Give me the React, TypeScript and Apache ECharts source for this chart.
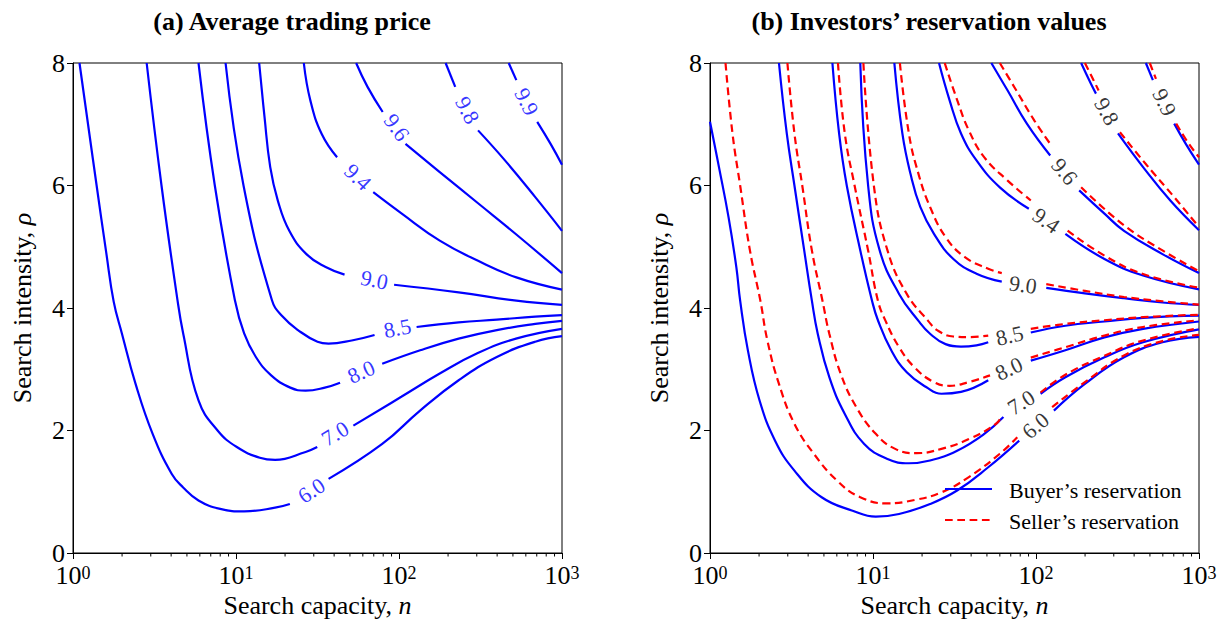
import React, { useEffect, useRef } from "react";
import * as echarts from "echarts";

type Pt = [number, number] | null;

const FONT = "Liberation Serif, Times New Roman, serif";

const levelLabels = ["6.0", "7.0", "8.0", "8.5", "9.0", "9.4", "9.6", "9.8", "9.9"];

// ---- Panel (a): average trading price contours [n, rho]; null = label gap
const avg60: Pt[] = [[1.096, 8], [1.396, 6], [1.6, 4.9], [1.778, 4.1], [1.995, 3.585], [2.415, 2.77], [3.076, 1.95], [4.036, 1.29], [4.74, 1.07], [5.888, 0.857], [8.0, 0.72], [11.22, 0.68], [17.38, 0.74], [21.4, 0.8], null, [36.98, 1.21], [78.9, 1.78], [135.2, 2.33], [232.3, 2.82], [398.1, 3.2], [685.5, 3.45], [1000, 3.54]];
const avg70: Pt[] = [[2.831, 8], [3.491, 6], [4.375, 4.13], [4.742, 3.585], [5.888, 2.49], [7.709, 2.0], [10.12, 1.73], [14.0, 1.555], [17.38, 1.52], [26.73, 1.65], [31.5, 1.73], null, [52.5, 2.08], [103.3, 2.55], [177.8, 2.93], [302, 3.26], [522, 3.5], [1000, 3.66]];
const avg80: Pt[] = [[5.888, 8], [7.413, 6], [9.84, 4.13], [11.22, 3.585], [13.24, 3.2], [16.44, 2.9], [21.53, 2.7], [26.73, 2.65], [35.08, 2.7], [43.5, 2.78], null, [78.9, 3.09], [134.9, 3.31], [232.3, 3.5], [398.1, 3.64], [685.5, 3.74], [1000, 3.79]];
const avg85: Pt[] = [[8.63, 8], [11.12, 6], [16.6, 4.13], [19.32, 3.86], [23.99, 3.64], [31.62, 3.45], [36.98, 3.42], [51.3, 3.47], [70.8, 3.56], null, [128.2, 3.69], [232.3, 3.765], [398.1, 3.81], [685.5, 3.86], [1000, 3.885]];
const avg90: Pt[] = [[13.87, 8], [14.96, 7.12], [16.22, 6.3], [18.07, 5.75], [21.23, 5.26], [27.04, 4.88], [35.48, 4.67], [46.34, 4.545], null, [93.3, 4.38], [232.3, 4.256], [524.8, 4.12], [1000, 4.05]];
const avg94: Pt[] = [[26.06, 8], [28.58, 7.39], [33.57, 6.84], [41.69, 6.46], null, [69.5, 5.89], [104, 5.54], [177.8, 5.1], [305.5, 4.77], [524.8, 4.5], [1000, 4.3]];
const avg96: Pt[] = [[54.58, 8], [64.12, 7.61], [79.43, 7.2], null, [109.6, 6.68], [177.8, 6.22], [305.5, 5.71], [524.8, 5.2], [1000, 4.57]];
const avg98: Pt[] = [[193.2, 8], [221.3, 7.61], null, [305.5, 6.9], [446.7, 6.41], [685.5, 5.81], [1000, 5.26]];
const avg99: Pt[] = [[471, 8], [524.8, 7.72], null, [704.7, 7.04], [851.1, 6.68], [1000, 6.34]];
const avgLabelPos: [number, number][] = [[29.0, 1.02], [40.5, 1.95], [58.6, 2.96], [97.8, 3.67], [70.6, 4.46], [56.0, 6.14], [97.0, 6.95], [263, 7.23], [606.7, 7.37]];

// ---- Panel (b): buyer's reservation (blue) and seller's reservation (red)
const buy60: Pt[] = [[1, 7.04], [1.135, 6.3], [1.3, 5.48], [1.452, 4.66], [1.531, 4.12], [1.71, 3.3], [2.014, 2.49], [2.512, 1.83], [3.296, 1.345], [4.842, 0.91], [7.499, 0.69], [10.4, 0.593], [14.45, 0.637], [22.39, 0.8], [32.81, 1.02], [50.93, 1.4], [78.89, 1.835], null, [128.8, 2.325], [199.5, 2.76], [346.7, 3.195], [597, 3.44], [1000, 3.53]];
const buy70: Pt[] = [[2.649, 8], [2.958, 6.85], [3.296, 6.0], [3.784, 4.94], [4.217, 4.12], [4.581, 3.58], [5.395, 2.87], [6.714, 2.27], [8.831, 1.78], [12.27, 1.535], [16.6, 1.465], [22.39, 1.51], [32.81, 1.67], [48.19, 1.945], [63.1, 2.22], null, [106.7, 2.6], [151.4, 2.87], [263, 3.195], [453.9, 3.44], [1000, 3.65]];
const buy80: Pt[] = [[5.636, 8], [6.194, 6.85], [6.902, 6.0], [8.356, 4.94], [9.863, 4.12], [10.72, 3.8], [12.94, 3.31], [16.11, 2.95], [21.18, 2.71], [26.3, 2.6], [34.67, 2.63], [50.93, 2.82], null, [92.9, 3.14], [151.4, 3.31], [263, 3.52], [453.9, 3.66], [1000, 3.78]];
const buy85: Pt[] = [[8.356, 8], [9.333, 6.0], [10.99, 4.94], [14.45, 4.23], [19.01, 3.79], [22.39, 3.58], [27.86, 3.41], [34.67, 3.37], [43.15, 3.39], [50.93, 3.44], null, [92.9, 3.6], [151.4, 3.71], [263, 3.78], [453.9, 3.84], [1000, 3.875]];
const buy90: Pt[] = [[13.52, 8], [15.14, 6.85], [16.98, 6.19], [19.5, 5.65], [23.66, 5.21], [31.12, 4.8], [43.15, 4.56], [61.66, 4.43], null, [115.6, 4.33], [199.5, 4.24], [346.7, 4.16], [597, 4.09], [1000, 4.05]];
const buy94: Pt[] = [[25.41, 8], [29.51, 7.39], [34.67, 6.85], [43.15, 6.41], [59.98, 5.97], [90.36, 5.62], null, [151.4, 5.21], [263, 4.8], [453.9, 4.53], [1000, 4.305]];
const buy96: Pt[] = [[53.21, 8], [66.99, 7.55], [87.9, 7.01], [122.2, 6.49], null, [184.1, 5.92], [263, 5.54], [346.7, 5.26], [597, 4.88], [1000, 4.57]];
const buy98: Pt[] = [[189.2, 8], [217.3, 7.66], [233.3, 7.5], null, [318.4, 6.85], [453.9, 6.3], [666.8, 5.755], [1000, 5.27]];
const buy99: Pt[] = [[472.1, 8], [521.2, 7.72], null, [704.7, 7.01], [829.8, 6.68], [1000, 6.34]];

const sell60: Pt[] = [[1.245, 8], [1.374, 6.85], [1.531, 6.0], [1.758, 4.94], [2.037, 4.12], [2.249, 3.47], [2.649, 2.76], [3.296, 2.11], [4.335, 1.62], [6.026, 1.18], [8.356, 0.91], [12.27, 0.81], [17.99, 0.866], [26.3, 0.99], [38.73, 1.24], [59.98, 1.62], [76.74, 1.89], null, [125.6, 2.38], [199.5, 2.79], [346.7, 3.225], [597, 3.46], [1000, 3.56]];
const sell70: Pt[] = [[2.985, 8], [3.296, 6.85], [3.681, 6.0], [4.217, 4.94], [4.898, 4.12], [5.395, 3.58], [6.353, 2.92], [7.907, 2.38], [10.4, 1.945], [13.68, 1.7], [18.49, 1.63], [26.3, 1.7], [38.73, 1.86], [56.89, 2.11], [61.66, 2.245], null, [106.7, 2.62], [151.4, 2.91], [263, 3.22], [453.9, 3.47], [1000, 3.67]];
const sell80: Pt[] = [[6.095, 8], [6.714, 6.85], [7.709, 6.0], [9.333, 4.94], [10.72, 4.12], [11.94, 3.79], [14.45, 3.36], [17.99, 3.03], [23.66, 2.79], [29.51, 2.73], [38.73, 2.79], [52.24, 2.9], null, [92.9, 3.19], [151.4, 3.36], [263, 3.55], [453.9, 3.69], [1000, 3.8]];
const sell85: Pt[] = [[8.73, 8], [10.12, 6.0], [12.27, 4.94], [16.11, 4.23], [21.78, 3.79], [25.0, 3.63], [31.12, 3.535], [38.73, 3.525], [50.93, 3.55], null, [92.9, 3.66], [151.4, 3.74], [263, 3.8], [453.9, 3.85], [1000, 3.89]];
const sell90: Pt[] = [[14.62, 8], [16.6, 6.85], [19.01, 6.19], [22.39, 5.65], [27.86, 5.16], [36.64, 4.83], [50.93, 4.64], [61.66, 4.57], null, [115.6, 4.39], [199.5, 4.28], [346.7, 4.18], [597, 4.11], [1000, 4.055]];
const sell94: Pt[] = [[27.54, 8], [32.89, 7.39], [38.73, 6.9], [48.19, 6.46], [66.99, 6.08], [92.9, 5.755], null, [156.3, 5.265], [263, 4.855], [453.9, 4.555], [1000, 4.33]];
const sell96: Pt[] = [[59.98, 8], [74.64, 7.58], [97.72, 7.06], [122.2, 6.68], null, [189.2, 5.97], [346.7, 5.35], [597, 4.94], [1000, 4.6]];
const sell98: Pt[] = [[199.5, 8], [225.4, 7.72], [242.1, 7.55], null, [327.3, 6.87], [478.6, 6.33], [704.7, 5.81], [1000, 5.32]];
const sell99: Pt[] = [[498.9, 8], [544.5, 7.74], null, [724.4, 7.01], [851.1, 6.71], [1000, 6.46]];
const resLabelPos: [number, number][] = [[99.3, 2.08], [81.1, 2.46], [68.1, 3.01], [68.8, 3.55], [83.2, 4.38], [115.6, 5.43], [149.6, 6.23], [271.6, 7.21], [613.8, 7.36]];

const xMinorTicks = [2, 3, 4, 5, 6, 7, 8, 9, 20, 30, 40, 50, 60, 70, 80, 90, 200, 300, 400, 500, 600, 700, 800, 900];

const avgContours = [avg60, avg70, avg80, avg85, avg90, avg94, avg96, avg98, avg99];
const buyContours = [buy60, buy70, buy80, buy85, buy90, buy94, buy96, buy98, buy99];
const sellContours = [sell60, sell70, sell80, sell85, sell90, sell94, sell96, sell98, sell99];

const BUYER = "Buyer\u2019s reservation";
const SELLER = "Seller\u2019s reservation";

const BLUE = "#0000ff";
const RED = "#ff0000";
const RED_DASH = [7.7, 4.6];

function segments(arr: Pt[]): [number, number][][] {
  const out: [number, number][][] = [];
  let cur: [number, number][] = [];
  for (const p of arr) {
    if (p === null) {
      if (cur.length) out.push(cur);
      cur = [];
    } else cur.push(p);
  }
  if (cur.length) out.push(cur);
  return out;
}

function gapEnds(arr: Pt[]): [[number, number], [number, number]] | null {
  const i = arr.indexOf(null);
  if (i <= 0) return null;
  return [arr[i - 1] as [number, number], arr[i + 1] as [number, number]];
}

function lineSeries(arr: Pt[], name: string, idx: number, style: any, z: number) {
  return segments(arr).map((seg) => ({
    type: "line",
    name,
    xAxisIndex: idx,
    yAxisIndex: idx,
    data: seg,
    symbol: "none",
    showSymbol: false,
    smooth: 0.45,
    lineStyle: style,
    itemStyle: { color: style.color },
    silent: true,
    z,
  }));
}

const GRIDS = [
  { left: 73, top: 63, width: 489, height: 490 },
  { left: 710, top: 63, width: 489, height: 490 },
];

function xAxis(idx: number) {
  return {
    type: "log",
    logBase: 10,
    gridIndex: idx,
    min: 1,
    max: 1000,
    splitNumber: 3,
    name: "{a|Search capacity, }{i|n}",
    nameLocation: "middle",
    nameGap: 36,
    nameTextStyle: {
      rich: {
        a: { fontSize: 26, fontFamily: FONT, color: "#000" },
        i: { fontSize: 26, fontFamily: FONT, fontStyle: "italic", color: "#000" },
      },
    },
    axisLine: { show: true, lineStyle: { color: "#000", width: 1 } },
    axisTick: { show: true, inside: false, length: 6, lineStyle: { color: "#000", width: 1 } },
    splitLine: { show: false },
    axisLabel: {
      margin: 11,
      showMinLabel: true,
      showMaxLabel: true,
      formatter: (v: number) => `{b|10}{s|${Math.round(Math.log10(v))}}`,
      rich: {
        b: { fontSize: 26, fontFamily: FONT, color: "#000", lineHeight: 22 },
        s: { fontSize: 18, fontFamily: FONT, color: "#000", lineHeight: 12, verticalAlign: "top" },
      },
    },
  };
}

function yAxis(idx: number) {
  return {
    type: "value",
    gridIndex: idx,
    min: 0,
    max: 8,
    interval: 2,
    name: "{a|Search intensity, }{i|\u03c1}",
    nameLocation: "middle",
    nameGap: 38,
    nameTextStyle: {
      rich: {
        a: { fontSize: 26, fontFamily: FONT, color: "#000" },
        i: { fontSize: 26, fontFamily: FONT, fontStyle: "italic", color: "#000" },
      },
    },
    axisLine: { show: true, lineStyle: { color: "#000", width: 1 } },
    axisTick: { show: true, inside: false, length: 6, lineStyle: { color: "#000", width: 1 } },
    splitLine: { show: false },
    axisLabel: { margin: 8, fontSize: 26, lineHeight: 18, fontFamily: FONT, color: "#000" },
  };
}

function minorTickSeries(idx: number) {
  return {
    type: "custom",
    xAxisIndex: idx,
    yAxisIndex: idx,
    clip: false,
    silent: true,
    data: xMinorTicks.map((v) => [v, 0]),
    renderItem: (_p: any, api: any) => {
      const pt = api.coord([api.value(0), api.value(1)]);
      return {
        type: "line",
        shape: { x1: pt[0], y1: pt[1], x2: pt[0], y2: pt[1] + 3.5 },
        style: { stroke: "#000", lineWidth: 1 },
      };
    },
  };
}

function labelSeries(idx: number, pos: [number, number][], rot: number[], color: string) {
  return {
    type: "scatter",
    id: "labels" + idx,
    xAxisIndex: idx,
    yAxisIndex: idx,
    silent: true,
    symbolSize: 1,
    itemStyle: { color: "rgba(0,0,0,0)" },
    z: 10,
    data: pos.map((p, i) => ({
      value: p,
      label: {
        show: true,
        position: "inside",
        formatter: levelLabels[i],
        rotate: rot[i] || 0,
        fontSize: 22,
        fontFamily: FONT,
        color,
      },
    })),
  };
}

function legendGraphic() {
  const items = [
    { text: BUYER, y: 489, style: { stroke: BLUE, lineWidth: 2.2 } },
    { text: SELLER, y: 520, style: { stroke: RED, lineWidth: 2.2, lineDash: RED_DASH } },
  ];
  const els: any[] = [];
  items.forEach((it) => {
    els.push({ type: "line", silent: true, shape: { x1: 945, y1: it.y, x2: 992, y2: it.y }, style: it.style, z: 20 });
    els.push({
      type: "text",
      silent: true,
      x: 1009,
      y: it.y + 1,
      style: { text: it.text, fontSize: 22, fontFamily: FONT, fill: "#000", verticalAlign: "middle", align: "left" },
      z: 20,
    });
  });
  return els;
}

export default function App() {
  const ref = useRef<HTMLDivElement>(null);
  useEffect(() => {
    if (!ref.current) return;
    const chart = echarts.init(ref.current, undefined, { renderer: "svg" });
    const blue = { color: BLUE, width: 2.2, type: "solid" };
    const red = { color: RED, width: 2.2, type: RED_DASH };
    const series: any[] = [];
    avgContours.forEach((c) => series.push(...lineSeries(c, "Average trading price", 0, blue, 2)));
    buyContours.forEach((c) => series.push(...lineSeries(c, BUYER, 1, blue, 2)));
    sellContours.forEach((c) => series.push(...lineSeries(c, SELLER, 1, red, 3)));
    series.push(minorTickSeries(0), minorTickSeries(1));
    const zeros = levelLabels.map(() => 0);
    series.push(labelSeries(0, avgLabelPos, zeros, BLUE));
    series.push(labelSeries(1, resLabelPos, zeros, "#000"));

    chart.setOption({
      animation: false,
      backgroundColor: "#fff",
      textStyle: { fontFamily: FONT },
      title: [
        { text: "(a) Average trading price", left: 287, top: 3, textAlign: "center", textStyle: { fontSize: 26, fontWeight: "bold", fontFamily: FONT, color: "#000" } },
        { text: "(b) Investors\u2019 reservation values", left: 924, top: 3, textAlign: "center", textStyle: { fontSize: 26, fontWeight: "bold", fontFamily: FONT, color: "#000" } },
      ],
      grid: GRIDS.map((g) => ({ ...g, show: true, borderColor: "#000", borderWidth: 1, containLabel: false })),
      xAxis: [xAxis(0), xAxis(1)],
      yAxis: [yAxis(0), yAxis(1)],
      graphic: legendGraphic(),
      series,
    });

    const angles = (contours: Pt[][], idx: number) =>
      contours.map((c) => {
        const g = gapEnds(c);
        if (!g) return 0;
        const a = chart.convertToPixel({ xAxisIndex: idx, yAxisIndex: idx }, g[0]) as number[];
        const b = chart.convertToPixel({ xAxisIndex: idx, yAxisIndex: idx }, g[1]) as number[];
        let deg = (Math.atan2(-(b[1] - a[1]), b[0] - a[0]) * 180) / Math.PI;
        if (deg > 90) deg -= 180;
        if (deg < -90) deg += 180;
        return deg;
      });
    const rotA = angles(avgContours, 0);
    const rotB = angles(buyContours, 1);
    chart.setOption({
      series: [labelSeries(0, avgLabelPos, rotA, BLUE), labelSeries(1, resLabelPos, rotB, "#000")],
    });

    return () => chart.dispose();
  }, []);
  return <div ref={ref} style={{ position: "fixed", left: 0, top: 0, width: 1228, height: 624 }} />;
}
